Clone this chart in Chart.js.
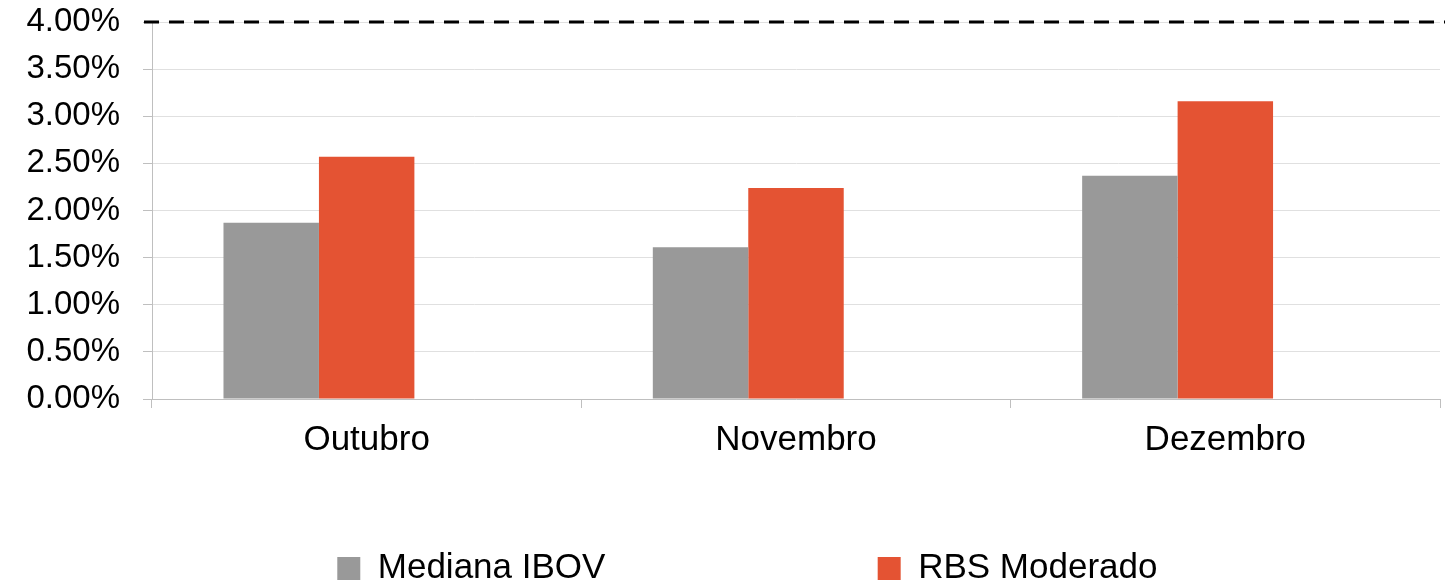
<!doctype html>
<html>
<head>
<meta charset="UTF-8">
<title>Mediana IBOV x RBS Moderado</title>
<script src="https://cdn.jsdelivr.net/npm/chart.js@4/dist/chart.umd.min.js"></script>
<style>
  html, body { margin: 0; padding: 0; background: #fff; }
  #wrap { width: 1445px; height: 580px; }
</style>
</head>
<body>
<div id="wrap"><canvas id="myChart"></canvas></div>

<script>
// data
var meses = ['Outubro', 'Novembro', 'Dezembro'];
var medianaIbov = [1.87, 1.61, 2.37];
var rbsModerado = [2.57, 2.24, 3.16];
var limite = [4, 4, 4];
var yTicks = [0, 0.5, 1, 1.5, 2, 2.5, 3, 3.5, 4];

var fonte = "'Liberation Sans', Arial, sans-serif";

// dashed line drawn at the "limite" value
var linhaLimite = {
  id: 'linhaLimite',
  afterDatasetsDraw: function(chart) {
    var y = chart.scales.y.getPixelForValue(limite[0]);
    var ctx = chart.ctx;
    ctx.save();
    ctx.strokeStyle = '#000';
    ctx.lineWidth = 3;
    ctx.setLineDash([15, 10]);
    ctx.beginPath();
    ctx.moveTo(chart.chartArea.left - 8, y);
    ctx.lineTo(chart.width, y);
    ctx.stroke();
    ctx.restore();
  }
};

var ctx = document.getElementById('myChart').getContext('2d');
var myChart = new Chart(ctx, {
  type: 'bar',
  data: {
    labels: meses,
    datasets: [{
      label: 'Mediana IBOV',
      data: medianaIbov,
      backgroundColor: '#999999',
      borderWidth: 0
    }, {
      label: 'RBS Moderado',
      data: rbsModerado,
      backgroundColor: '#e45333',
      borderWidth: 0
    }, {
      label: 'Limite',
      data: limite,
      backgroundColor: 'rgba(0,0,0,0)',
      borderWidth: 0
    }]
  },
  plugins: [linhaLimite],
  options: {
    responsive: true,
    maintainAspectRatio: false,
    animation: false,
    layout: { padding: { left: 0, right: 5, top: 22, bottom: 0 } },
    datasets: { bar: { categoryPercentage: 0.667, barPercentage: 1 } },
    plugins: {
      tooltip: { enabled: false },
      legend: {
        position: 'bottom',
        fullSize: false,
        maxHeight: 29,
        labels: {
          font: { family: fonte, size: 35 },
          color: '#000',
          boxWidth: 23,
          boxHeight: 23,
          padding: 0,
          filter: function(item) { return item.datasetIndex < 2; },
          generateLabels: function(chart) {
            var items = Chart.defaults.plugins.legend.labels.generateLabels(chart);
            items[0].text = items[0].text + '                            ';
            items[1].text = items[1].text + '          ';
            return items;
          }
        }
      }
    },
    scales: {
      x: {
        grid: { drawOnChartArea: false, tickLength: 9, tickColor: '#bfbfbf' },
        border: { color: '#bfbfbf' },
        ticks: { font: { family: fonte, size: 35 }, color: '#000', padding: 11 },
        afterFit: function(s) { s.height = 152; }
      },
      y: {
        min: 0,
        max: 4,
        grid: { color: '#e0e0e0', tickLength: 9, tickColor: '#bfbfbf' },
        border: { color: '#bfbfbf' },
        afterBuildTicks: function(s) { s.ticks = yTicks.map(function(v) { return { value: v }; }); },
        ticks: {
          font: { family: fonte, size: 33 },
          color: '#000',
          padding: 23,
          callback: function(v) { return v.toFixed(2) + '%'; }
        },
        afterFit: function(s) { s.width = 152; s.paddingTop = 0; s.paddingBottom = 0; }
      }
    }
  }
});
</script>
</body>
</html>
